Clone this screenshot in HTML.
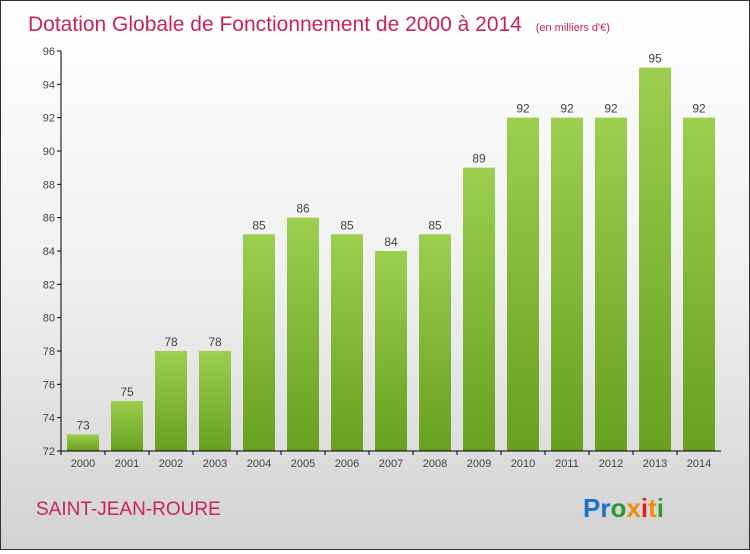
<!DOCTYPE html>
<html><head><meta charset="utf-8"><style>
body{margin:0;width:750px;height:550px;overflow:hidden;font-family:"Liberation Sans",sans-serif}
#c{position:absolute;left:0;top:0;width:748px;height:548px;border:1px solid #333;background:linear-gradient(#ffffff 0%,#f0f0f0 50%,#d2d2d2 100%)}
</style></head><body>
<div id="c">
<svg width="748" height="548" id="s">
<defs><linearGradient id="g" x1="0" y1="0" x2="0" y2="1"><stop offset="0" stop-color="#9ccf4e"/><stop offset="1" stop-color="#66a01c"/></linearGradient></defs>
<text x="27" y="30" font-size="21" fill="#c8245a">Dotation Globale de Fonctionnement de 2000 à 2014 <tspan font-size="11" dx="8">(en milliers d'€)</tspan></text>
<text x="35" y="514" font-size="19" fill="#c8245a">SAINT-JEAN-ROURE</text>
<text x="582" y="516" font-size="26" font-weight="bold"><tspan fill="#1a73c8">Pr</tspan><tspan fill="#2a9a3a">o</tspan><tspan fill="#f28c00">x</tspan><tspan fill="#e02020">i</tspan><tspan fill="#f28c00">t</tspan><tspan fill="#2a9a3a">i</tspan></text>
<g id="plot"></g>
</svg></div>
<script>
const years=["2000","2001","2002","2003","2004","2005","2006","2007","2008","2009","2010","2011","2012","2013","2014"];
const values=[73,75,78,78,85,86,85,84,85,89,92,92,92,95,92];
const yTicks=[72,74,76,78,80,82,84,86,88,90,92,94,96];
const NS="http://www.w3.org/2000/svg";
const p=document.getElementById('plot');
const x0=60,x1=720,band=(x1-x0)/years.length;
const y=v=>450-(v-72)*400/24;
function el(t,a,txt){const e=document.createElementNS(NS,t);for(const k in a)e.setAttribute(k,a[k]);if(txt!=null)e.textContent=txt;p.appendChild(e);return e;}
yTicks.forEach(t=>{
 const l=el('line',{x1:x0-4,x2:x0,y1:y(t),y2:y(t),stroke:'#000'});
 
 
 const tx=el('text',{x:x0-6,y:y(t)+4,'font-size':11,fill:'#444','text-anchor':'end'},t);
 
 
});
years.forEach((yr,i)=>{
 const cx=x0+band*(i+0.5),v=values[i];
 const r=el('rect',{x:cx-16,y:y(v),width:32,height:450-y(v),fill:'url(#g)'});
 
 
 const vl=el('text',{x:cx,y:y(v)-5,'font-size':12,fill:'#444','text-anchor':'middle'},v);
 
 
 const xl=el('text',{x:cx,y:466,'font-size':11,fill:'#444','text-anchor':'middle'},yr);
 
 
 const tk=el('line',{x1:x0+band*i,x2:x0+band*i,y1:450,y2:454,stroke:'#000'});
 
 
});
const ya=el('line',{x1:x0,x2:x0,y1:50,y2:450,stroke:'#000'});


const xa=el('line',{x1:x0,x2:x1,y1:450,y2:450,stroke:'#000'});


</script>
</body></html>
